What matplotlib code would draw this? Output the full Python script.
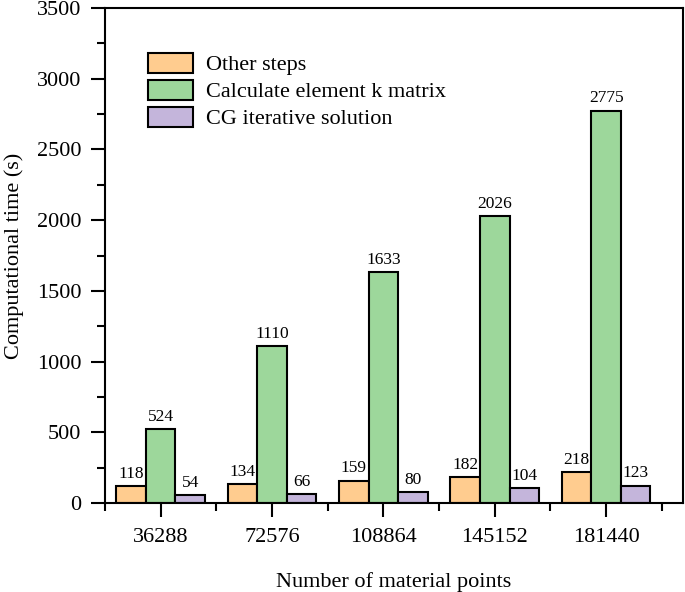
import numpy as np
import matplotlib.pyplot as plt
from matplotlib.ticker import MultipleLocator

points = ['36288', '72576', '108864', '145152', '181440']
other_steps = [118, 134, 159, 182, 218]
element_k = [524, 1110, 1633, 2026, 2775]
cg_solution = [54, 66, 80, 104, 123]

series_names = ['Other steps', 'Calculate element k matrix', 'CG iterative solution']
colors = ['#FFCC8F', '#9DD79B', '#C4B5DB']

plt.rcParams['font.family'] = ['Liberation Serif', 'DejaVu Serif']

fig = plt.figure(figsize=(6.85, 5.92), dpi=100)
ax = fig.add_axes([0.1533, 0.1503, 0.997 - 0.1533, 0.9865 - 0.1503])

x = np.arange(len(points))
w = 0.265
for i, (vals, name, c) in enumerate(zip([other_steps, element_k, cg_solution], series_names, colors)):
    bars = ax.bar(x + (i - 1) * w, vals, w, color=c, edgecolor='black', linewidth=1.5, label=name)
    ax.bar_label(bars, padding=3, fontsize=12.5)

ax.set_xlim(-0.5, 4.69)
ax.set_ylim(0, 3500)
ax.set_xticks(x)
ax.set_xticklabels(points)
ax.xaxis.set_minor_locator(MultipleLocator(1, offset=0.5))
ax.yaxis.set_major_locator(MultipleLocator(500))
ax.yaxis.set_minor_locator(MultipleLocator(250))
ax.tick_params(which='major', direction='out', length=10, width=1.5, labelsize=16)
ax.tick_params(which='minor', direction='out', length=5.5, width=1.5)
ax.tick_params(axis='x', which='major', pad=8)
ax.tick_params(axis='y', which='major', pad=7)
for s in ax.spines.values():
    s.set_linewidth(1.5)

ax.set_xlabel('Number of material points', fontsize=16, labelpad=18)
ax.set_ylabel('Computational time (s)', fontsize=16, labelpad=9)

ax.legend(loc='upper left', bbox_to_anchor=(0.04, 0.95), frameon=False, fontsize=16,
          handlelength=2.0, handleheight=1.0, labelspacing=0.2, handletextpad=0.6)

fig.savefig('out.png', dpi=100)
